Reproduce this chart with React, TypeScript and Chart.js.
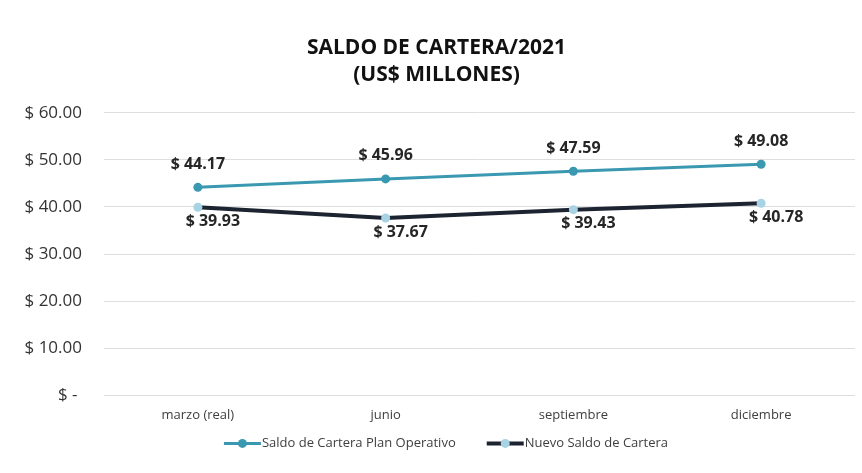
import React, { useEffect, useRef } from 'react';
import { Chart, registerables } from 'chart.js';

Chart.register(...registerables);

const categories = ['marzo (real)', 'junio', 'septiembre', 'diciembre'];
const planOperativo = [44.17, 45.96, 47.59, 49.08];
const nuevoSaldo = [39.93, 37.67, 39.43, 40.78];
const seriesNames = ['Saldo de Cartera Plan Operativo', 'Nuevo Saldo de Cartera'];
const titleLines = ['SALDO DE CARTERA/2021', '(US$ MILLONES)'];
const yMin = 0;
const yMax = 60;
const yStep = 10;

const TEAL = '#3a98b1';
const DARK = '#1c2331';
const LIGHT = '#a7d3e4';
const FONT = "'Open Sans', sans-serif";

const fmtMoney = (v: number) => (v === 0 ? '$ - ' : '$ ' + v.toFixed(2));

const dataLabelPlugin = {
  id: 'dataLabels',
  afterDatasetsDraw(chart: any) {
    const ctx = chart.ctx;
    ctx.save();
    ctx.font = `bold 16px ${FONT}`;
    ctx.fillStyle = '#262626';
    ctx.textAlign = 'center';
    ctx.textBaseline = 'middle';
    chart.data.datasets.forEach((ds: any, di: number) => {
      const meta = chart.getDatasetMeta(di);
      meta.data.forEach((pt: any, i: number) => {
        const v = ds.data[i] as number;
        const dx = di === 0 ? 0 : 15;
        const dy = di === 0 ? -23 : 14;
        ctx.fillText(fmtMoney(v), pt.x + dx, pt.y + dy);
      });
    });
    ctx.restore();
  },
};

const legendPlugin = {
  id: 'customLegend',
  afterDraw(chart: any) {
    const ctx = chart.ctx;
    ctx.save();
    ctx.font = `13px ${FONT}`;
    ctx.textBaseline = 'middle';
    ctx.textAlign = 'left';
    const lineLen = 37;
    const textGap = 1;
    const itemGap = 31;
    const items = chart.data.datasets.map((ds: any) => ({
      label: ds.label as string,
      line: ds.borderColor as string,
      lw: ds.borderWidth as number,
      marker: ds.pointBackgroundColor as string,
      w: lineLen + textGap + ctx.measureText(ds.label).width,
    }));
    const total = items.reduce((s: number, it: any) => s + it.w, 0) + itemGap * (items.length - 1);
    let x = chart.width / 2 + 15 - total / 2;
    const y = chart.chartArea.bottom + 48;
    items.forEach((it: any) => {
      ctx.strokeStyle = it.line;
      ctx.lineWidth = it.lw;
      ctx.beginPath();
      ctx.moveTo(x, y);
      ctx.lineTo(x + lineLen, y);
      ctx.stroke();
      ctx.fillStyle = it.marker;
      ctx.beginPath();
      ctx.arc(x + lineLen / 2, y, 4.5, 0, Math.PI * 2);
      ctx.fill();
      ctx.fillStyle = '#404040';
      ctx.fillText(it.label, x + lineLen + textGap, y);
      x += it.w + itemGap;
    });
    ctx.restore();
  },
};

export default function App() {
  const ref = useRef<HTMLCanvasElement | null>(null);

  useEffect(() => {
    document.body.style.margin = '0';
    const canvas = ref.current;
    if (!canvas) return;
    const chart = new Chart(canvas, {
      type: 'line',
      data: {
        labels: categories,
        datasets: [
          {
            label: seriesNames[0],
            data: planOperativo,
            borderColor: TEAL,
            backgroundColor: TEAL,
            pointBackgroundColor: TEAL,
            pointBorderColor: TEAL,
            borderWidth: 3,
            pointRadius: 4.5,
            pointBorderWidth: 0,
            tension: 0,
          },
          {
            label: seriesNames[1],
            data: nuevoSaldo,
            borderColor: DARK,
            backgroundColor: DARK,
            pointBackgroundColor: LIGHT,
            pointBorderColor: LIGHT,
            borderWidth: 4,
            pointRadius: 4.5,
            pointBorderWidth: 0,
            tension: 0,
          },
        ],
      },
      options: {
        responsive: false,
        animation: false,
        layout: { padding: { left: 18, right: 7, top: 0, bottom: 38 } },
        plugins: {
          legend: { display: false },
          tooltip: { enabled: false },
          title: {
            display: true,
            text: titleLines,
            color: '#111111',
            font: { family: FONT, size: 21, weight: 'bold', lineHeight: 1.28 },
            padding: { top: 35, bottom: 24 },
          },
        },
        scales: {
          x: {
            offset: true,
            grid: { display: false, drawTicks: false },
            border: { display: false },
            ticks: {
              color: '#404040',
              font: { family: FONT, size: 13 },
              padding: 12,
              maxRotation: 0,
            },
          },
          y: {
            min: yMin,
            max: yMax,
            afterFit(scale: any) {
              scale.width = 86;
            },
            grid: { color: '#dedede', lineWidth: 1, drawTicks: false },
            border: { display: false },
            ticks: {
              stepSize: yStep,
              color: '#333333',
              font: { family: FONT, size: 17 },
              padding: 22,
              callback: (v: any) => fmtMoney(Number(v)),
            },
          },
        },
      },
      plugins: [dataLabelPlugin, legendPlugin],
    });
    return () => chart.destroy();
  }, []);

  return (
    <div style={{ width: 862, height: 473, background: '#ffffff' }}>
      <canvas ref={ref} width={862} height={473} />
    </div>
  );
}
